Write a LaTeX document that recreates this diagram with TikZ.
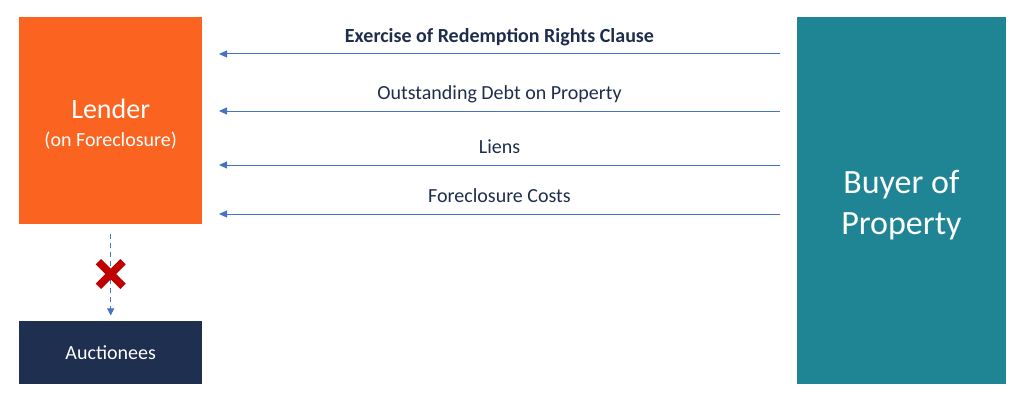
\documentclass[tikz,border=0pt]{standalone}
\usepackage{fontspec}
\setmainfont{Carlito}
\usetikzlibrary{arrows.meta}
\definecolor{lorange}{HTML}{FA6420}
\definecolor{bteal}{HTML}{1F8594}
\definecolor{anavy}{HTML}{1F2F4F}
\definecolor{ablue}{HTML}{4472C4}
\definecolor{tnavy}{HTML}{1F2D4D}
\definecolor{xred}{HTML}{C00000}
\tikzset{
  box/.style={rectangle, inner sep=0pt, outer sep=0pt, text=white, align=center},
  boxtext/.style={text=white, align=center, inner sep=0pt},
  flow/.style={draw=ablue, line width=1pt, -{Triangle[length=8pt,width=7pt]}},
  flowlabel/.style={text=tnavy, font=\fontsize{20}{24}\selectfont, anchor=base, inner sep=0pt},
  crossline/.style={draw=xred, line width=7.5pt}
}
\begin{document}
\begin{tikzpicture}[x=1pt,y=-1pt]
\useasboundingbox (0,0) rectangle (1024,404);
\node[box, fill=lorange, minimum width=183.5pt, minimum height=206.5pt,
  label={[boxtext, yshift=-4pt, font=\fontsize{20}{27.4}\selectfont]center:{\fontsize{28}{27.4}\selectfont Lender}\\(on Foreclosure)}] (lender) at (110.7,120.3) {};
\node[box, fill=anavy, minimum width=183.5pt, minimum height=62.5pt, font=\fontsize{20}{24}\selectfont] (auct) at (110.7,352.7) {Auctionees};
\node[box, fill=bteal, minimum width=209.3pt, minimum height=367.3pt,
  label={[boxtext, yshift=-4.5pt, font=\fontsize{34}{41.6}\selectfont]center:Buyer of\\Property}] (buyer) at (901.4,200.4) {};

\coordinate (r1) at (780,54);  \coordinate (l1) at (219,54);
\coordinate (r2) at (780,111); \coordinate (l2) at (219,111);
\coordinate (r3) at (780,165); \coordinate (l3) at (219,165);
\coordinate (r4) at (780,214); \coordinate (l4) at (219,214);

\draw[flow] (r1) -- node[flowlabel, yshift=11.3pt] {\bfseries Exercise of Redemption Rights Clause} (l1);
\draw[flow] (r2) -- node[flowlabel, yshift=11.3pt] {Outstanding Debt on Property} (l2);
\draw[flow] (r3) -- node[flowlabel, yshift=11.3pt] {Liens} (l3);
\draw[flow] (r4) -- node[flowlabel, yshift=11.3pt] {Foreclosure Costs} (l4);

\draw[draw=ablue, line width=1pt, dash pattern=on 5pt off 4pt, -{Triangle[length=7pt,width=7pt]}]
  ([yshift=-10pt]lender.south) -- ([yshift=6pt]auct.north);

\coordinate (xc) at (110.7,274);
\draw[crossline] ([shift={(-12.3,-12.3)}]xc) -- ([shift={(12.3,12.3)}]xc);
\draw[crossline] ([shift={(-12.3,12.3)}]xc) -- ([shift={(12.3,-12.3)}]xc);
\end{tikzpicture}
\end{document}
